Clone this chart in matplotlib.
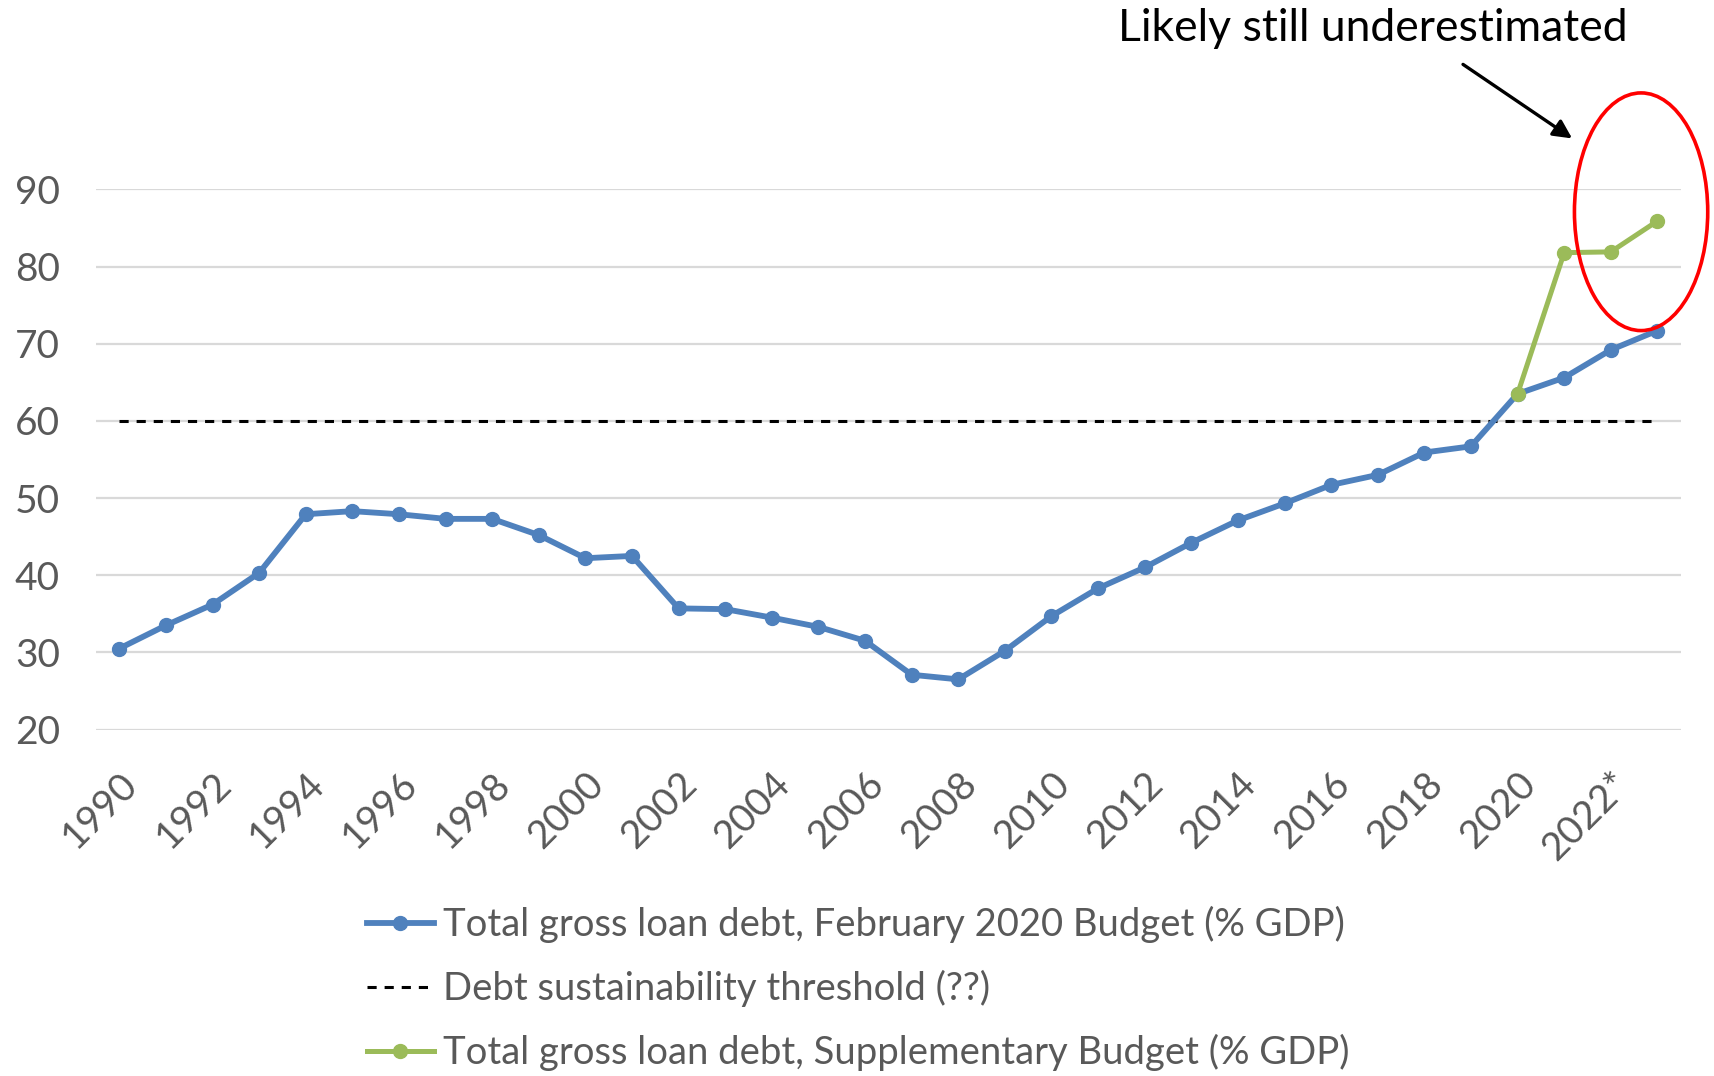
import matplotlib
matplotlib.use("Agg")
import matplotlib.pyplot as plt
from matplotlib.patches import Ellipse
from matplotlib.lines import Line2D
from matplotlib.transforms import ScaledTranslation

plt.rcParams["font.family"] = ["Lato", "DejaVu Sans"]

years = list(range(1990, 2024))
tick_labels = ["1990", "1992", "1994", "1996", "1998", "2000", "2002", "2004",
               "2006", "2008", "2010", "2012", "2014", "2016", "2018", "2020", "2022*"]
feb_budget = [30.5, 33.5, 36.2, 40.3, 47.9, 48.3, 47.9, 47.3, 47.3, 45.2,
              42.2, 42.5, 35.7, 35.6, 34.5, 33.3, 31.5, 27.1, 26.5, 30.2,
              34.7, 38.3, 41.0, 44.2, 47.1, 49.3, 51.7, 53.0, 55.9, 56.7,
              63.5, 65.6, 69.2, 71.7]
supp_years = [2020, 2021, 2022, 2023]
supp_budget = [63.5, 81.8, 81.9, 85.9]
threshold = 60

blue = "#4f81bd"
green = "#9bbb59"
grey_txt = "#595959"

fig = plt.figure(figsize=(17.15, 10.76), dpi=100)
ax = fig.add_axes([0.056, 0.322, 0.924, 0.502])

xi = list(range(len(years)))
sx = [years.index(y) for y in supp_years]

ax.plot(xi, [threshold] * len(xi), color="black", lw=2.2, dashes=(3, 2.6), zorder=2)
ax.plot(xi, feb_budget, color=blue, lw=4.2, marker="o", ms=10, zorder=3)
ax.plot(sx, supp_budget, color=green, lw=3.6, marker="o", ms=10, zorder=4)

ax.set_xlim(-0.5, len(years) - 0.5)
ax.set_ylim(20, 90)
ax.set_yticks(range(20, 91, 10))
ax.set_xticks(range(0, len(years), 2))
ax.set_xticklabels(tick_labels, rotation=45, ha="right", va="top",
                   rotation_mode="anchor", fontsize=28, color=grey_txt)
shift = ScaledTranslation(-6 / 100, 0, fig.dpi_scale_trans)
for lab in ax.get_xticklabels():
    lab.set_transform(lab.get_transform() + shift)
for lab in ax.get_yticklabels():
    lab.set_fontsize(28)
    lab.set_color(grey_txt)
ax.tick_params(axis="both", length=0)
ax.tick_params(axis="x", pad=26)
ax.tick_params(axis="y", pad=26)
ax.grid(axis="y", color="#d9d9d9", lw=1.6)
ax.set_axisbelow(True)
for s in ax.spines.values():
    s.set_visible(False)

# annotation shapes
ell = Ellipse((32.65, 87.1), 2.86, 30.8, fill=False, ec="red", lw=2.6,
              clip_on=False, zorder=5)
ax.add_patch(ell)
ax.annotate("", xy=(31.22, 96.4), xytext=(28.78, 106.4), annotation_clip=False,
            arrowprops=dict(arrowstyle="-|>", color="black", lw=2.4,
                            mutation_scale=28))
ax.text(26.9, 110.8, "Likely still underestimated", fontsize=32, color="black",
        ha="center", va="center", clip_on=False)

handles = [
    Line2D([], [], color=blue, lw=4.2, marker="o", ms=10),
    Line2D([], [], color="black", lw=2.2, dashes=(3, 2.6)),
    Line2D([], [], color=green, lw=3.6, marker="o", ms=10),
]
labels = [
    "Total gross loan debt, February 2020 Budget (% GDP)",
    "Debt sustainability threshold (??)",
    "Total gross loan debt, Supplementary Budget (% GDP)",
]
leg = fig.legend(handles, labels, loc="upper left", bbox_to_anchor=(0.205, 0.172),
                 frameon=False, fontsize=27.5, handlelength=1.75, handletextpad=0.25,
                 labelspacing=0.7, borderaxespad=0)
for t in leg.get_texts():
    t.set_color(grey_txt)

fig.savefig("out.png", dpi=100)
